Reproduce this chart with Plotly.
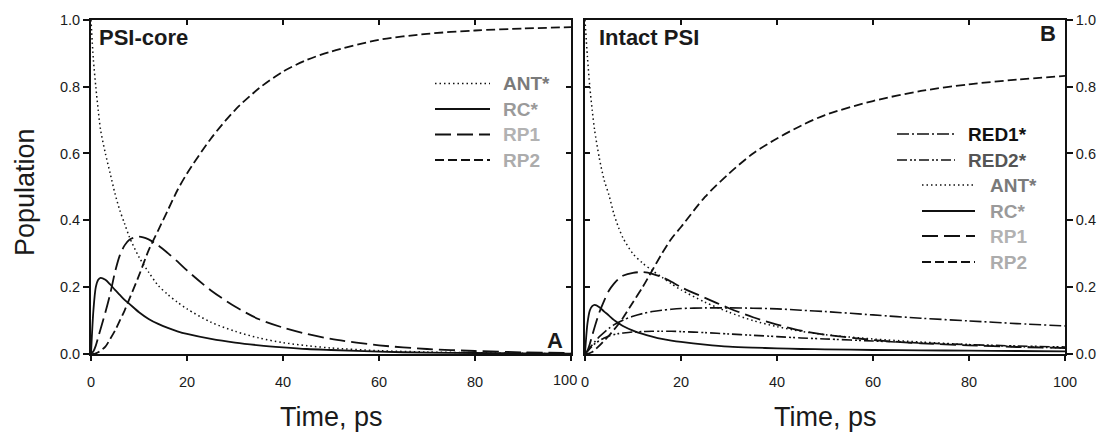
import plotly.graph_objects as go

# ---------------- data ----------------
t = [0, 0.5, 1, 1.5, 2, 3, 4, 5, 6, 7, 8, 10, 12, 14, 16, 18, 20, 25, 30, 35, 40, 45, 50, 60, 70, 80, 90, 100]

# Panel A: PSI-core
ant_a = [1.0, 0.88, 0.80, 0.73, 0.67, 0.60, 0.54, 0.48, 0.43, 0.39, 0.35, 0.29, 0.245, 0.205, 0.178, 0.155, 0.135, 0.095, 0.068, 0.048, 0.034, 0.025, 0.018, 0.010, 0.006, 0.004, 0.002, 0.001]
rc_a = [0.0, 0.13, 0.20, 0.222, 0.228, 0.222, 0.208, 0.192, 0.177, 0.162, 0.15, 0.125, 0.105, 0.09, 0.078, 0.068, 0.06, 0.045, 0.034, 0.026, 0.02, 0.015, 0.012, 0.007, 0.004, 0.003, 0.002, 0.001]
rp1_a = [0.0, 0.008, 0.025, 0.05, 0.075, 0.125, 0.18, 0.245, 0.295, 0.325, 0.342, 0.351, 0.343, 0.325, 0.302, 0.277, 0.25, 0.19, 0.142, 0.104, 0.079, 0.06, 0.045, 0.026, 0.015, 0.009, 0.005, 0.003]
rp2_a = [0.0, 0.0, 0.002, 0.005, 0.01, 0.022, 0.045, 0.07, 0.1, 0.13, 0.165, 0.235, 0.31, 0.37, 0.43, 0.49, 0.54, 0.645, 0.73, 0.795, 0.845, 0.88, 0.905, 0.94, 0.958, 0.968, 0.974, 0.978]

# Panel B: intact PSI
red1_b = [0.0, 0.008, 0.018, 0.027, 0.036, 0.052, 0.065, 0.077, 0.087, 0.095, 0.102, 0.113, 0.121, 0.127, 0.131, 0.134, 0.136, 0.138, 0.138, 0.137, 0.135, 0.131, 0.127, 0.117, 0.107, 0.099, 0.091, 0.084]
red2_b = [0.0, 0.008, 0.016, 0.023, 0.03, 0.04, 0.048, 0.054, 0.058, 0.061, 0.063, 0.066, 0.067, 0.068, 0.068, 0.068, 0.067, 0.064, 0.06, 0.056, 0.052, 0.048, 0.045, 0.039, 0.033, 0.028, 0.024, 0.021]
ant_b = [1.0, 0.89, 0.80, 0.73, 0.67, 0.585, 0.52, 0.475, 0.42, 0.378, 0.345, 0.30, 0.272, 0.25, 0.23, 0.21, 0.192, 0.155, 0.125, 0.1, 0.082, 0.068, 0.058, 0.045, 0.036, 0.028, 0.022, 0.018]
rc_b = [0.0, 0.09, 0.13, 0.143, 0.147, 0.14, 0.127, 0.115, 0.102, 0.092, 0.083, 0.07, 0.06, 0.052, 0.045, 0.04, 0.036, 0.028, 0.022, 0.019, 0.017, 0.015, 0.014, 0.012, 0.011, 0.01, 0.009, 0.008]
rp1_b = [0.0, 0.01, 0.03, 0.055, 0.08, 0.125, 0.16, 0.19, 0.21, 0.225, 0.235, 0.243, 0.245, 0.24, 0.23, 0.216, 0.2, 0.168, 0.137, 0.11, 0.088, 0.07, 0.058, 0.042, 0.032, 0.026, 0.021, 0.018]
rp2_b = [0.0, 0.0, 0.003, 0.006, 0.012, 0.025, 0.04, 0.055, 0.072, 0.09, 0.11, 0.155, 0.2, 0.25, 0.3, 0.345, 0.38, 0.47, 0.54, 0.6, 0.645, 0.683, 0.715, 0.757, 0.787, 0.807, 0.821, 0.832]

x_ticks = [0, 20, 40, 60, 80, 100]
x_tick_text = ["0", "20", "40", "60", "80", "100"]
y_ticks = [0.0, 0.2, 0.4, 0.6, 0.8, 1.0]
y_tick_text = ["0.0", "0.2", "0.4", "0.6", "0.8", "1.0"]

# ---------------- styles ----------------
W, H = 1104, 433
def PX(px):
    return px / W
def PY(py):
    return 1 - py / H

STY = {
    "ANT*": dict(color="#111", width=1.5, dash="1.5px,3px"),
    "RC*": dict(color="#111", width=1.8, dash="solid"),
    "RP1": dict(color="#111", width=1.8, dash="16px,6px"),
    "RP2": dict(color="#111", width=1.8, dash="9px,4px"),
    "RED1*": dict(color="#111", width=1.6, dash="12px,3px,2px,3px"),
    "RED2*": dict(color="#111", width=1.6, dash="10px,3px,2px,2px,2px,3px"),
}
TXTCOL = {"ANT*": "#7a7a7a", "RC*": "#9a9a9a", "RP1": "#b2b2b2", "RP2": "#acacac",
          "RED1*": "#111111", "RED2*": "#555555"}

FONT = "Liberation Sans, Arial, sans-serif"

fig = go.Figure()

left = [("ANT*", ant_a), ("RC*", rc_a), ("RP1", rp1_a), ("RP2", rp2_a)]
right = [("RED1*", red1_b), ("RED2*", red2_b), ("ANT*", ant_b), ("RC*", rc_b), ("RP1", rp1_b), ("RP2", rp2_b)]

for name, ys in left:
    fig.add_trace(go.Scatter(x=t, y=ys, mode="lines", line=dict(shape="spline", smoothing=0.8, **STY[name]),
                             xaxis="x", yaxis="y", showlegend=False, hoverinfo="skip"))
for name, ys in right:
    fig.add_trace(go.Scatter(x=t, y=ys, mode="lines", line=dict(shape="spline", smoothing=0.8, **STY[name]),
                             xaxis="x2", yaxis="y2", showlegend=False, hoverinfo="skip"))

# dummy traces so overlay axes get drawn
fig.add_trace(go.Scatter(x=[None], y=[None], xaxis="x3", yaxis="y3", showlegend=False, hoverinfo="skip"))
fig.add_trace(go.Scatter(x=[None], y=[None], xaxis="x4", yaxis="y4", showlegend=False, hoverinfo="skip"))

domA = [PX(91), PX(571)]
domB = [PX(585), PX(1065)]
domY = [PY(354), PY(19.8)]

tickfont = dict(family=FONT, size=14.5, color="#1a1a1a")
base = dict(showgrid=False, zeroline=False, automargin=False,
            showline=True, linecolor="#111", linewidth=1.8, tickcolor="#111", tickwidth=1.5,
            tickfont=tickfont)
common_x = dict(range=[0, 100], tickvals=x_ticks, ticktext=x_tick_text, **base)
common_y = dict(range=[0, 1], tickvals=y_ticks, ticktext=y_tick_text, **base)
# left panel: last x label ("100") is drawn a little to the left, as in the original
left_x = dict(range=[0, 100], tickvals=x_ticks, ticktext=x_tick_text[:-1] + [""], **base)

fig.update_layout(
    width=W, height=H, autosize=False,
    margin=dict(l=0, r=0, t=0, b=0, pad=0),
    paper_bgcolor="white", plot_bgcolor="white",
    xaxis=dict(domain=domA, anchor="y", ticks="outside", ticklen=5, ticklabelstandoff=9, **left_x),
    yaxis=dict(domain=domY, anchor="x", ticks="outside", ticklen=6, side="left", **common_y),
    xaxis2=dict(domain=domB, anchor="y2", ticks="outside", ticklen=5, ticklabelstandoff=9, **common_x),
    yaxis2=dict(domain=domY, anchor="x2", ticks="outside", ticklen=6, side="right", **common_y),
    xaxis3=dict(overlaying="x", anchor="y", side="top", ticks="inside", ticklen=5, showticklabels=False, **common_x),
    yaxis3=dict(overlaying="y", anchor="x", side="right", ticks="inside", ticklen=5, showticklabels=False, **common_y),
    xaxis4=dict(overlaying="x2", anchor="y2", side="top", ticks="inside", ticklen=5, showticklabels=False, **common_x),
    yaxis4=dict(overlaying="y2", anchor="x2", side="left", ticks="inside", ticklen=5, showticklabels=False, **common_y),
)

ann = []
shapes = []
P = dict(xref="paper", yref="paper", showarrow=False)
ann.append(dict(text=x_tick_text[-1], x=PX(565), y=PY(380), font=tickfont,
                xanchor="center", yanchor="middle", **P))
# axis titles
title_font = dict(family=FONT, size=27, color="#1a1a1a")
ann.append(dict(text="Population", x=PX(25), y=PY(192), textangle=-90,
                font=title_font, xanchor="center", yanchor="middle", **P))
for cx in (331, 825):
    ann.append(dict(text="Time, ps", x=PX(cx), y=PY(417),
                    font=title_font, xanchor="center", yanchor="middle", **P))
# panel labels
bold = dict(family=FONT, size=22, color="#1a1a1a")
ann.append(dict(text="<b>PSI-core</b>", x=PX(97), y=PY(38), font=bold, xanchor="left", yanchor="middle", **P))
ann.append(dict(text="<b>Intact PSI</b>", x=PX(597), y=PY(38), font=bold, xanchor="left", yanchor="middle", **P))
ann.append(dict(text="<b>A</b>", x=PX(565), y=PY(340), font=bold, xanchor="right", yanchor="middle", **P))
ann.append(dict(text="<b>B</b>", x=PX(1058), y=PY(33), font=bold, xanchor="right", yanchor="middle", **P))

# legends
def legend_row(name, ly, x0, x1, tx):
    s = STY[name]
    shapes.append(dict(type="line", xref="paper", yref="paper", x0=PX(x0), x1=PX(x1), y0=PY(ly), y1=PY(ly),
                       line=dict(color=s["color"], width=s["width"], dash=s["dash"])))
    ann.append(dict(text="<b>%s</b>" % name, x=PX(tx), y=PY(ly), xanchor="left", yanchor="middle",
                    font=dict(family=FONT, size=19, color=TXTCOL[name]), **P))

for i, (name, _) in enumerate(left):
    legend_row(name, 83.5 + 25.5 * i, 435, 490, 501)
rows_b = [134, 160, 185, 211, 236, 262]
for (name, _), ly in zip(right, rows_b):
    if name.startswith("RED"):
        legend_row(name, ly, 897, 955, 966)
    else:
        legend_row(name, ly, 922, 975, 988)

fig.update_layout(annotations=ann, shapes=shapes)
fig.write_html("out.html")
